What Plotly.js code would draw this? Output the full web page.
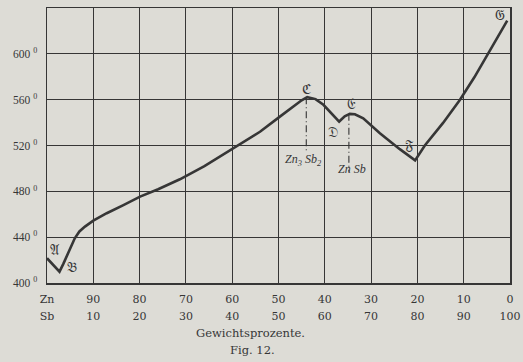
<!DOCTYPE html>
<html>
<head>
<meta charset="utf-8">
<script src="https://cdn.plot.ly/plotly-3.0.1.min.js"></script>
<style>html,body{margin:0;padding:0;background:#dddcd6;}</style>
</head>
<body>
<div id="chart" style="width:523px;height:362px;"></div>
<script>
// Liquidus curve of the Zn–Sb system (x = weight-% Sb, y = temperature °C)
const sbPercent = [0, 1, 2.7, 3.5, 4.2, 5.0, 6.0, 7.0, 8.2, 10, 12.9, 16.5, 20.1, 24, 28.7, 34, 40.2, 46, 50.3, 53, 55, 56.2, 58, 59.7, 61.8, 62.9, 63.1, 64.3, 65.4, 66.5, 68.3, 71.9, 76.2, 79.5, 81.6, 85.5, 89.2, 92.3, 95.3, 99.4];
const temperature = [421.6, 417, 409.9, 416.5, 423, 431, 439, 445, 449.2, 454.4, 460.9, 468, 475.4, 481.8, 490.5, 502, 517.6, 532, 545.2, 553.5, 559.5, 562.2, 560.5, 555.5, 546.7, 541.7, 540.9, 545.5, 547.6, 547.3, 543.8, 530.7, 516.8, 507, 520, 539.5, 560, 579.5, 600, 629];

// compound ordinates (dash-dot lines)
const compoundSb = [56.0, 65.2];
const compoundTop = [562.2, 547.6];
const compoundBottom = [514.7, 497];
const compoundNames = ["Zn<sub>3</sub> Sb<sub>2</sub>", "Zn Sb"];
const compoundLabelSb = [55.3, 65.8];
const compoundLabelT = [507.4, 499.5];

// point letters
const pointLetters = ["𝔄", "𝔅", "ℭ", "𝔇", "𝔈", "𝔉", "𝔊"];
const pointLetterSb = [1.7, 5.3, 56.1, 61.8, 65.8, 78.4, 97.8];
const pointLetterT = [428.8, 413.7, 569, 532, 556, 520.5, 634];

// axis ticks
const compTicks = [0, 10, 20, 30, 40, 50, 60, 70, 80, 90, 100];
const znLabels = ["Zn", "90", "80", "70", "60", "50", "40", "30", "20", "10", "0"];
const sbLabels = ["Sb", "10", "20", "30", "40", "50", "60", "70", "80", "90", "100"];
const tempTicks = [400, 440, 480, 520, 560, 600];
const tempLabels = tempTicks.map(t => t + " <sup>0</sup>");

const ink = "#363636";
const serif = "'DejaVu Serif', 'Liberation Serif', 'Times New Roman', serif";
const serif2 = "'Liberation Serif', 'Times New Roman', 'DejaVu Serif', serif";
const traces = [];
traces.push({
  x: sbPercent, y: temperature, mode: "lines", type: "scatter",
  line: {color: ink, width: 2.6}, hoverinfo: "skip", showlegend: false
});
for (let i = 0; i < compoundSb.length; i++) {
  traces.push({
    x: [compoundSb[i], compoundSb[i]], y: [compoundTop[i], compoundBottom[i]],
    xaxis: "x2", mode: "lines", type: "scatter",
    line: {color: ink, width: 1.1, dash: "7px,3px,1px,3px"}, hoverinfo: "skip", showlegend: false
  });
}

const annotations = [];
for (let i = 0; i < pointLetters.length; i++) {
  annotations.push({x: pointLetterSb[i], y: pointLetterT[i], text: pointLetters[i], showarrow: false,
    font: {family: serif, size: 14, color: ink}});
}
for (let i = 0; i < compoundNames.length; i++) {
  annotations.push({x: compoundLabelSb[i], y: compoundLabelT[i], text: "<i>" + compoundNames[i] + "</i>", showarrow: false,
    font: {family: serif2, size: 12, color: ink}});
}
annotations.push({xref: "paper", yref: "paper", x: (250 - 47) / 463, y: -(332.7 - 283) / 275, text: "Gewichtsprozente.",
  showarrow: false, yanchor: "middle", font: {family: serif, size: 11.5, color: ink}});
annotations.push({xref: "paper", yref: "paper", x: (252 - 47) / 463, y: -(350 - 283) / 275, text: "Fig. 12.",
  showarrow: false, yanchor: "middle", font: {family: serif, size: 11.5, color: ink}});

const xbase = {
  range: [0, 100], tickmode: "array", tickvals: compTicks,
  showgrid: true, gridcolor: ink, gridwidth: 1, zeroline: false,
  showline: true, linecolor: ink, linewidth: 1.5, mirror: true,
  ticks: "outside", tickcolor: "rgba(0,0,0,0)",
  tickfont: {family: serif, size: 11, color: ink}, fixedrange: true
};
const layout = {
  width: 523, height: 362,
  margin: {l: 47, r: 13, t: 8, b: 79},
  paper_bgcolor: "#dddcd6", plot_bgcolor: "#dddcd6",
  showlegend: false,
  xaxis: Object.assign({}, xbase, {ticktext: znLabels, ticklen: 5}),
  xaxis2: Object.assign({}, xbase, {ticktext: sbLabels, ticklen: 22, overlaying: "x", side: "bottom", showgrid: false, anchor: "y"}),
  yaxis: {
    range: [400, 640], tickmode: "array", tickvals: tempTicks, ticktext: tempLabels,
    showgrid: true, gridcolor: ink, gridwidth: 1, zeroline: false,
    showline: true, linecolor: ink, linewidth: 1.5, mirror: true,
    ticks: "outside", ticklen: 6, tickcolor: "rgba(0,0,0,0)",
    tickfont: {family: serif2, size: 11.5, color: ink}, fixedrange: true
  },
  annotations: annotations
};
Plotly.newPlot("chart", traces, layout, {displayModeBar: false, staticPlot: true});
</script>
</body>
</html>
